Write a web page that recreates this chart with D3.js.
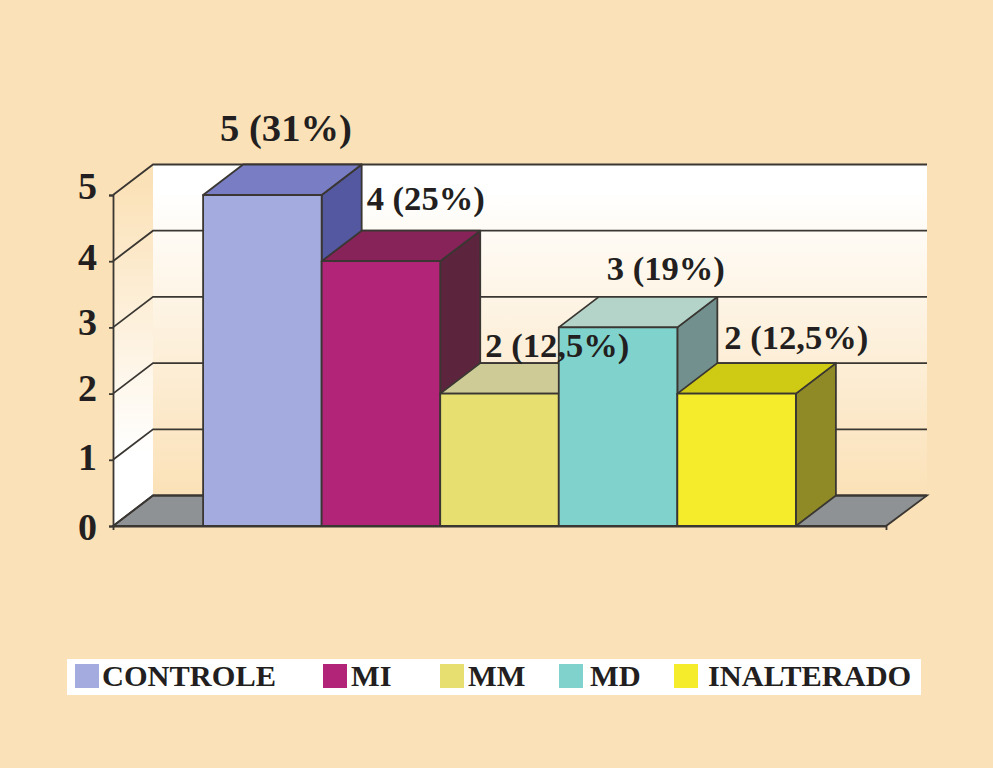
<!DOCTYPE html>
<html lang="pt">
<head>
    <meta charset="UTF-8">
    <title>Grafico</title>
    <script src="https://d3js.org/d3.v7.min.js"></script>
    <style>
        html, body { margin: 0; padding: 0; background: #fbe1b7; }
        svg { display: block; }
        text { font-family: "Liberation Serif", serif; font-weight: bold; fill: #231f20; }
    </style>
</head>
<body>
    <svg width="993" height="768"></svg>
    <script>
        // data
        const categories = ["CONTROLE", "MI", "MM", "MD", "INALTERADO"];
        const values = [5, 4, 2, 3, 2];
        const valueLabels = ["5 (31%)", "4 (25%)", "2 (12,5%)", "3 (19%)", "2 (12,5%)"];
        const yTicks = [0, 1, 2, 3, 4, 5];
        const frontColors = ["#a4abde", "#b22477", "#e7e070", "#80d3cd", "#f5ed2b"];
        const topColors = ["#797dc4", "#88235a", "#cfcb96", "#b4d4ca", "#cfca14"];
        const sideColors = ["#5358a1", "#5c253d", "#8f8a3c", "#72908d", "#8f8a26"];

        const svg = d3.select("svg");
        const line = "#3a3632";
        const peach = "#fbe1b7";

        // 3d offset of the box
        const depthX = 40, depthY = -30.5;
        const left = 113, right = 886;

        const x = d3.scaleBand().domain(categories).range([left, right]).paddingInner(0).paddingOuter(0.76);
        const y = d3.scaleLinear().domain([0, 5]).range([526, 195]);

        const poly = pts => pts.map(p => p.join(",")).join(" ");

        const defs = svg.append("defs");
        const backGrad = defs.append("linearGradient").attr("id", "backWall")
            .attr("x1", 0).attr("y1", 0).attr("x2", 0).attr("y2", 1);
        backGrad.append("stop").attr("offset", "0.08").attr("stop-color", "#ffffff");
        backGrad.append("stop").attr("offset", "1").attr("stop-color", peach);
        const sideGrad = defs.append("linearGradient").attr("id", "sideWall")
            .attr("x1", 0).attr("y1", 0).attr("x2", 0).attr("y2", 1);
        sideGrad.append("stop").attr("offset", "0.05").attr("stop-color", peach);
        sideGrad.append("stop").attr("offset", "0.8").attr("stop-color", "#ffffff");

        // walls
        svg.append("polygon")
            .attr("points", poly([[left + depthX, y(5) + depthY], [right + depthX + 1, y(5) + depthY], [right + depthX + 1, y(0) + depthY], [left + depthX, y(0) + depthY]]))
            .attr("fill", "url(#backWall)");
        svg.append("polygon")
            .attr("points", poly([[left, y(5)], [left + depthX, y(5) + depthY], [left + depthX, y(0) + depthY], [left, y(0)]]))
            .attr("fill", "url(#sideWall)");

        // floor
        svg.append("polygon")
            .attr("points", poly([[left, y(0)], [right, y(0)], [right + depthX + 1, y(0) + depthY], [left + depthX, y(0) + depthY]]))
            .attr("fill", "#8e9294")
            .attr("stroke", line).attr("stroke-width", 1.8);

        // grid lines on the walls
        const grid = svg.append("g").attr("fill", "none").attr("stroke", line).attr("stroke-width", 1.8);
        grid.selectAll("polyline")
            .data(yTicks)
            .join("polyline")
            .attr("points", d => poly([[left, y(d)], [left + depthX, y(d) + depthY], [right + depthX + 1, y(d) + depthY]]));

        // axes
        const yAxis = d3.axisLeft(y).tickValues(yTicks).tickSize(4).tickPadding(12).tickFormat(d3.format("d"));
        const yG = svg.append("g").attr("transform", `translate(${left},0)`).call(yAxis);
        yG.selectAll("path, line").attr("stroke", line).attr("stroke-width", 1.8);
        // the digits sit a little above their ticks in the original
        const tickShift = [1, -2, -5, -5, -4, -9];
        yG.selectAll("text")
            .attr("font-size", 38)
            .attr("font-family", "Liberation Serif")
            .attr("fill", "#231f20")
            .attr("y", (d, i) => tickShift[i]);

        const xAxis = d3.axisBottom(x).tickValues([]).tickSize(4).tickSizeOuter(4);
        const xG = svg.append("g").attr("transform", `translate(0,${y(0)})`).call(xAxis);
        xG.selectAll("path").attr("stroke", line).attr("stroke-width", 1.8);

        // bars, left to right so each one covers the side of the previous
        const bars = svg.append("g").attr("stroke", line).attr("stroke-width", 1.8).attr("stroke-linejoin", "round");
        categories.forEach((c, i) => {
            const x0 = x(c), x1 = x0 + x.bandwidth(), yt = y(values[i]), yb = y(0);
            bars.append("polygon")
                .attr("points", poly([[x1, yt], [x1 + depthX, yt + depthY], [x1 + depthX, yb + depthY], [x1, yb]]))
                .attr("fill", sideColors[i]);
            bars.append("polygon")
                .attr("points", poly([[x0, yt], [x0 + depthX, yt + depthY], [x1 + depthX, yt + depthY], [x1, yt]]))
                .attr("fill", topColors[i]);
            bars.append("rect")
                .attr("x", x0).attr("y", yt)
                .attr("width", x.bandwidth()).attr("height", yb - yt)
                .attr("fill", frontColors[i]);
        });

        // value labels, the offsets follow the hand placed ones of the original
        const labelDx = [17, 45, 45, 48, 47];
        const labelDy = [-54, -51, -37, -47, -44.5];
        const labelSize = [38.6, 34.6, 34.6, 34.6, 34.6];
        svg.append("g").selectAll("text")
            .data(valueLabels)
            .join("text")
            .attr("x", (d, i) => x(categories[i]) + labelDx[i])
            .attr("y", (d, i) => y(values[i]) + labelDy[i])
            .attr("font-size", (d, i) => labelSize[i])
            .text(d => d);

        // legend
        const legendX = [75, 323, 440, 559, 674];
        const legendTextX = [102, 351, 468, 590, 708];
        svg.append("rect").attr("x", 67).attr("y", 659).attr("width", 854).attr("height", 36).attr("fill", "#ffffff");
        const legend = svg.append("g");
        legend.selectAll("rect")
            .data(categories)
            .join("rect")
            .attr("x", (d, i) => legendX[i]).attr("y", 664)
            .attr("width", 24).attr("height", 24)
            .attr("fill", (d, i) => frontColors[i]);
        legend.selectAll("text")
            .data(categories)
            .join("text")
            .attr("x", (d, i) => legendTextX[i]).attr("y", 686)
            .attr("font-size", 30.4)
            .text(d => d);
    </script>
</body>
</html>
